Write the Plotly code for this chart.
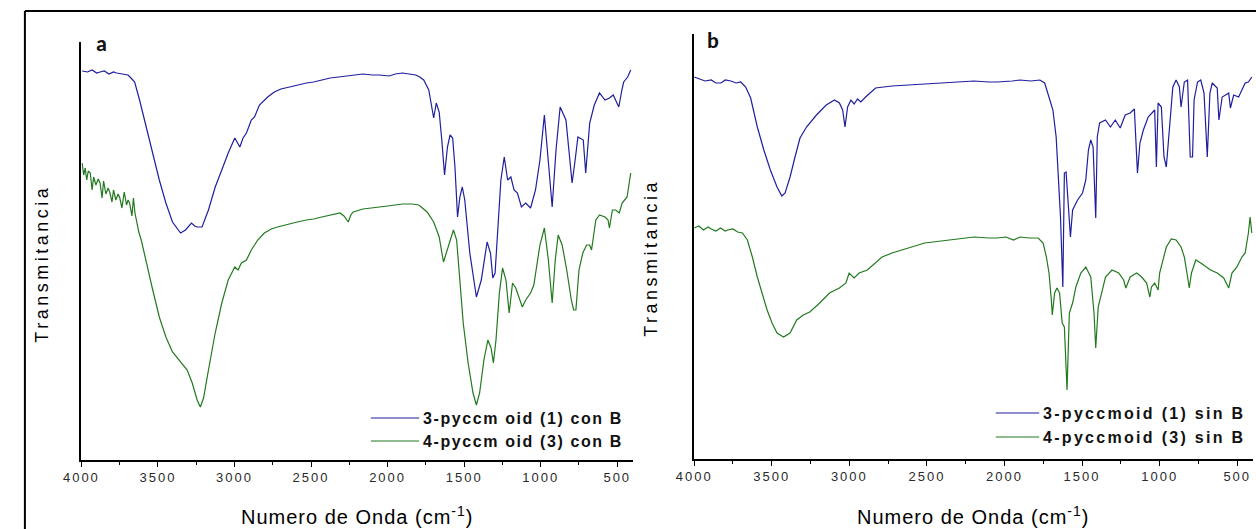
import plotly.graph_objects as go

# ---------------- data ----------------
# Panel a : 3-pyccmoid (1) con B  (blue)
wn_a1 = [3995, 3960, 3930, 3900, 3878, 3850, 3820, 3790, 3770, 3740, 3695, 3670, 3652, 3620, 3577,
         3534, 3491, 3448, 3405, 3352, 3320, 3281, 3260, 3244, 3212, 3170, 3126, 3083, 3041, 2998,
         2980, 2965, 2944, 2922, 2890, 2869, 2837, 2783, 2740, 2697, 2640, 2590, 2530, 2483, 2430,
         2375, 2320, 2268, 2225, 2161, 2100, 2053, 1989, 1950, 1903, 1860, 1817, 1790, 1764, 1731,
         1710, 1699, 1682, 1663, 1646, 1628, 1609, 1592, 1575, 1560, 1543, 1528, 1512, 1496, 1463,
         1420, 1388, 1350, 1328, 1313, 1298, 1281, 1260, 1238, 1216, 1195, 1174, 1152, 1126, 1098,
         1066, 1034, 1005, 976, 950, 925, 900, 873, 835, 815, 795, 775, 757, 722, 706,
         680, 650, 616, 580, 551, 526, 505, 490, 470, 458, 432, 412]
t_a1 = [389, 388, 390, 387, 388, 389, 386, 388, 387, 386, 385, 381, 378, 360, 333,
        307, 280, 257, 238, 227, 230, 237, 234, 233, 233, 250, 273, 290, 307, 322,
        317, 313, 322, 327, 340, 343, 355, 363, 368, 371, 373, 375, 377, 378, 380,
        382, 383, 384, 385, 386, 385, 385, 384, 386, 387, 386, 385, 383, 380, 370,
        353, 342, 357, 348, 320, 285, 313, 325, 322, 293, 243, 263, 273, 260, 207,
        163, 180, 218, 207, 182, 187, 233, 280, 303, 280, 283, 270, 267, 253, 257,
        252, 270, 300, 345, 300, 253, 310, 353, 340, 310, 277, 300, 323, 320, 287,
        337, 355, 367, 360, 362, 365, 358, 353, 370, 378, 383, 390]

# Panel a : 4-pyccmoid (3) con B  (green)
wn_a3 = [3995, 3985, 3975, 3965, 3955, 3942, 3930, 3920, 3905, 3890, 3878, 3865, 3855, 3840, 3825,
         3813, 3800, 3790, 3775, 3760, 3749, 3735, 3720, 3705, 3695, 3685, 3670, 3660, 3650, 3641,
         3625, 3609, 3577, 3534, 3491, 3448, 3405, 3352, 3309, 3276, 3244, 3223, 3202, 3170, 3126,
         3083, 3041, 2998, 2977, 2955, 2922, 2890, 2848, 2805, 2760, 2719, 2650, 2590, 2530, 2483,
         2430, 2375, 2311, 2285, 2257, 2240, 2225, 2161, 2096, 2000, 1903, 1840, 1796, 1770, 1742,
         1699, 1663, 1635, 1603, 1570, 1549, 1528, 1506, 1474, 1442, 1420, 1399, 1371, 1345, 1324,
         1309, 1292, 1270, 1249, 1227, 1206, 1184, 1163, 1142, 1120, 1098, 1066, 1045, 1029, 1005,
         976, 950, 925, 905, 886, 860, 830, 800, 785, 770, 750, 725, 700, 680, 668,
         640, 616, 580, 560, 551, 532, 510, 487, 468, 436, 425, 412]
t_a3 = [297, 285, 292, 280, 289, 287, 270, 283, 275, 281, 277, 262, 279, 266, 272,
        267, 258, 270, 260, 266, 262, 252, 268, 255, 260, 257, 244, 262, 247, 240,
        228, 220, 200, 170, 143, 123, 108, 98, 90, 77, 60, 53, 62, 90, 127,
        157, 180, 193, 190, 197, 200, 210, 220, 227, 231, 233, 236, 238, 240, 241,
        243, 245, 247, 244, 238, 245, 248, 251, 252, 254, 256, 256, 255, 252, 248,
        238, 223, 198, 213, 230, 220, 180, 137, 97, 67, 55, 67, 100, 120, 112,
        97, 120, 167, 192, 180, 147, 177, 172, 163, 153, 160, 167, 175, 190, 215,
        232, 200, 157, 200, 225, 215, 190, 160, 150, 150, 190, 207, 215, 215, 210,
        240, 245, 243, 240, 232, 250, 250, 247, 257, 263, 275, 287]

# Panel b : 3-pyccmoid (1) sin B  (blue)
wn_b1 = [4000, 3960, 3930, 3890, 3860, 3827, 3800, 3763, 3730, 3700, 3668, 3636, 3593, 3551, 3509,
         3466, 3435, 3414, 3382, 3350, 3318, 3276, 3212, 3149, 3096, 3064, 3043, 3028, 3011, 2990,
         2969, 2947, 2926, 2895, 2831, 2725, 2620, 2500, 2408, 2300, 2196, 2100, 2048, 1950, 1900,
         1830, 1772, 1741, 1709, 1688, 1667, 1650, 1639, 1624, 1614, 1603, 1586, 1575, 1561, 1529,
         1497, 1476, 1459, 1444, 1429, 1412, 1402, 1387, 1349, 1317, 1286, 1254, 1222, 1190, 1163,
         1143, 1127, 1105, 1074, 1053, 1032, 1021, 1010, 989, 972, 957, 937, 915, 894, 873,
         862, 841, 820, 803, 788, 778, 756, 735, 714, 693, 676, 661, 629, 618, 597,
         555, 544, 523, 491, 470, 449, 428, 406]
t_b1 = [382, 380, 378, 379, 376, 376, 379, 378, 376, 377, 372, 361, 332, 309, 289,
        272, 263, 266, 282, 302, 321, 332, 344, 354, 359, 356, 349, 332, 352, 359,
        355, 360, 357, 362, 371, 373, 374, 375, 376, 377, 378, 377, 377, 378, 379,
        378, 379, 376, 361, 349, 322, 279, 242, 172, 286, 287, 242, 222, 249, 259,
        266, 279, 309, 319, 312, 241, 322, 336, 339, 332, 339, 331, 344, 346, 350,
        286, 316, 329, 342, 346, 349, 292, 356, 352, 302, 292, 332, 372, 379, 372,
        352, 377, 379, 302, 302, 359, 377, 379, 366, 302, 366, 376, 371, 339, 362,
        366, 351, 364, 362, 369, 376, 377, 382]

# Panel b : 4-pyccmoid (3) sin B  (green)
wn_b3 = [4000, 3970, 3940, 3910, 3890, 3860, 3830, 3800, 3784, 3750, 3720, 3689, 3657, 3625, 3593,
         3562, 3530, 3498, 3466, 3424, 3382, 3339, 3297, 3255, 3191, 3128, 3064, 3022, 3001, 2969,
         2937, 2884, 2831, 2789, 2725, 2620, 2514, 2408, 2302, 2196, 2100, 2048, 1990, 1942, 1900,
         1840, 1783, 1751, 1730, 1713, 1698, 1692, 1677, 1662, 1645, 1628, 1614, 1597, 1582, 1561,
         1540, 1508, 1476, 1444, 1423, 1412, 1396, 1374, 1349, 1307, 1264, 1232, 1218, 1190, 1148,
         1116, 1084, 1063, 1053, 1032, 1010, 1000, 978, 957, 925, 894, 862, 841, 820, 809,
         795, 767, 735, 703, 672, 629, 587, 555, 534, 502, 470, 449, 428, 417, 406]
t_b3 = [231, 233, 229, 232, 230, 228, 231, 228, 229, 230, 227, 226, 219, 202, 182,
        166, 149, 136, 126, 122, 126, 139, 144, 147, 156, 166, 171, 176, 186, 181,
        186, 189, 196, 202, 206, 211, 216, 218, 220, 222, 221, 221, 222, 219, 222,
        221, 221, 216, 202, 186, 159, 144, 166, 171, 166, 136, 132, 69, 146, 156,
        172, 186, 192, 182, 146, 111, 152, 166, 182, 189, 186, 179, 171, 182, 186,
        182, 176, 162, 172, 176, 169, 186, 199, 212, 220, 219, 212, 202, 182, 171,
        186, 199, 196, 192, 189, 186, 181, 171, 186, 192, 202, 206, 226, 242, 226]

tick_vals = [4000, 3500, 3000, 2500, 2000, 1500, 1000, 500]
tick_labels = ["4000", "3500", "3000", "2500", "2000", "1500", "1000", "500"]

names_a = ["3-pyccm oid (1) con B", "4-pyccm oid (3) con B"]
names_b = ["3-pyccmoid (1) sin B", "4-pyccmoid (3) sin B"]
panel_labels = ["a", "b"]
y_title = "Transmitancia"
x_title = "Numero de Onda (cm<sup>-1</sup>)"

# ---------------- styling ----------------
W, H = 1256, 529
BLUE = "#1e1e9e"
GREEN = "#22791f"


def px(x):
    return x / W


def py(y):
    return 1 - y / H


fig = go.Figure()
fig.add_trace(go.Scatter(x=wn_a1, y=t_a1, mode="lines", name=names_a[0],
                         line=dict(color=BLUE, width=1.2), xaxis="x", yaxis="y", showlegend=False))
fig.add_trace(go.Scatter(x=wn_a3, y=t_a3, mode="lines", name=names_a[1],
                         line=dict(color=GREEN, width=1.2), xaxis="x", yaxis="y", showlegend=False))
fig.add_trace(go.Scatter(x=wn_b1, y=t_b1, mode="lines", name=names_b[0],
                         line=dict(color=BLUE, width=1.2), xaxis="x2", yaxis="y2", showlegend=False))
fig.add_trace(go.Scatter(x=wn_b3, y=t_b3, mode="lines", name=names_b[1],
                         line=dict(color=GREEN, width=1.2), xaxis="x2", yaxis="y2", showlegend=False))

tick_text = ['<span style="letter-spacing:2px">%s</span>' % t for t in tick_labels]

xcommon = dict(range=[4000, 400], showline=True, linecolor="black", linewidth=1.5,
               showgrid=False, zeroline=False, tickmode="array", tickvals=tick_vals,
               ticktext=tick_text, ticks="outside", ticklen=5, tickwidth=1, tickcolor="black",
               minor=dict(tickvals=[3750, 3250, 2750, 2250, 1750, 1250, 750],
                          ticks="outside", ticklen=3, tickwidth=1, tickcolor="black"),
               tickfont=dict(family="Liberation Sans, Arial", size=13, color="#2a2a2a"))
ycommon = dict(showline=True, linecolor="black", linewidth=1.5, showgrid=False,
               zeroline=False, showticklabels=False, ticks="")

fig.update_layout(
    width=W, height=H, margin=dict(l=0, r=0, t=0, b=0),
    paper_bgcolor="white", plot_bgcolor="white", showlegend=False,
    xaxis=dict(domain=[px(64.3), px(623.5)], anchor="y", **xcommon),
    yaxis=dict(domain=[py(460), py(42)], range=[0, 418], anchor="x", **ycommon),
    xaxis2=dict(domain=[px(686), px(1252.7)], anchor="y2", **xcommon),
    yaxis2=dict(domain=[py(459), py(34)], range=[0, 425], anchor="x2", **ycommon),
)

shapes = [
    # outer frame
    dict(type="line", xref="paper", yref="paper", x0=px(7), x1=1, y0=py(11), y1=py(11),
         line=dict(color="black", width=2)),
    dict(type="line", xref="paper", yref="paper", x0=px(7), x1=px(7), y0=py(11), y1=0,
         line=dict(color="black", width=2)),
    # legend samples
    dict(type="line", xref="paper", yref="paper", x0=px(358), x1=px(407), y0=py(418), y1=py(418),
         line=dict(color=BLUE, width=1.2)),
    dict(type="line", xref="paper", yref="paper", x0=px(358), x1=px(407), y0=py(441), y1=py(441),
         line=dict(color=GREEN, width=1.2)),
    dict(type="line", xref="paper", yref="paper", x0=px(992), x1=px(1036), y0=py(413), y1=py(413),
         line=dict(color=BLUE, width=1.2)),
    dict(type="line", xref="paper", yref="paper", x0=px(992), x1=px(1036), y0=py(437), y1=py(437),
         line=dict(color=GREEN, width=1.2)),
]

leg_font = dict(family="Liberation Sans, Arial", size=16, color="#111")
ann = []
for yy, txt in zip([418, 441], names_a):
    ann.append(dict(xref="paper", yref="paper", x=px(409), y=py(yy), xanchor="left", yanchor="middle",
                    text='<b><span style="letter-spacing:1.6px">%s</span></b>' % txt,
                    showarrow=False, font=leg_font))
for yy, txt in zip([413, 437], names_b):
    ann.append(dict(xref="paper", yref="paper", x=px(1038), y=py(yy), xanchor="left", yanchor="middle",
                    text='<b><span style="letter-spacing:2.3px">%s</span></b>' % txt,
                    showarrow=False, font=leg_font))

title_font = dict(family="Liberation Sans, Arial", size=20, color="black")
for cx in [343.5, 969]:
    ann.append(dict(xref="paper", yref="paper", x=px(cx), y=py(515), xanchor="center", yanchor="middle",
                    text='<span style="letter-spacing:1px">%s</span>' % x_title,
                    showarrow=False, font=title_font))
for cx, cy in [(24, 264), (642, 258)]:
    ann.append(dict(xref="paper", yref="paper", x=px(cx), y=py(cy), xanchor="center", yanchor="middle",
                    text='<span style="letter-spacing:3.5px">%s</span>' % y_title, textangle=-90,
                    showarrow=False, font=dict(family="Liberation Sans, Arial", size=18, color="black")))
for (cx, cy), lab in zip([(85, 43), (705, 40)], panel_labels):
    ann.append(dict(xref="paper", yref="paper", x=px(cx), y=py(cy), xanchor="center", yanchor="middle",
                    text="<b>%s</b>" % lab, showarrow=False,
                    font=dict(family="Carlito, Liberation Sans, Arial", size=22, color="#111")))

fig.update_layout(shapes=shapes, annotations=ann)
fig.write_html("out.html", config={"displayModeBar": False},
               post_script="document.body.style.margin='0';document.body.style.overflow='hidden';")
